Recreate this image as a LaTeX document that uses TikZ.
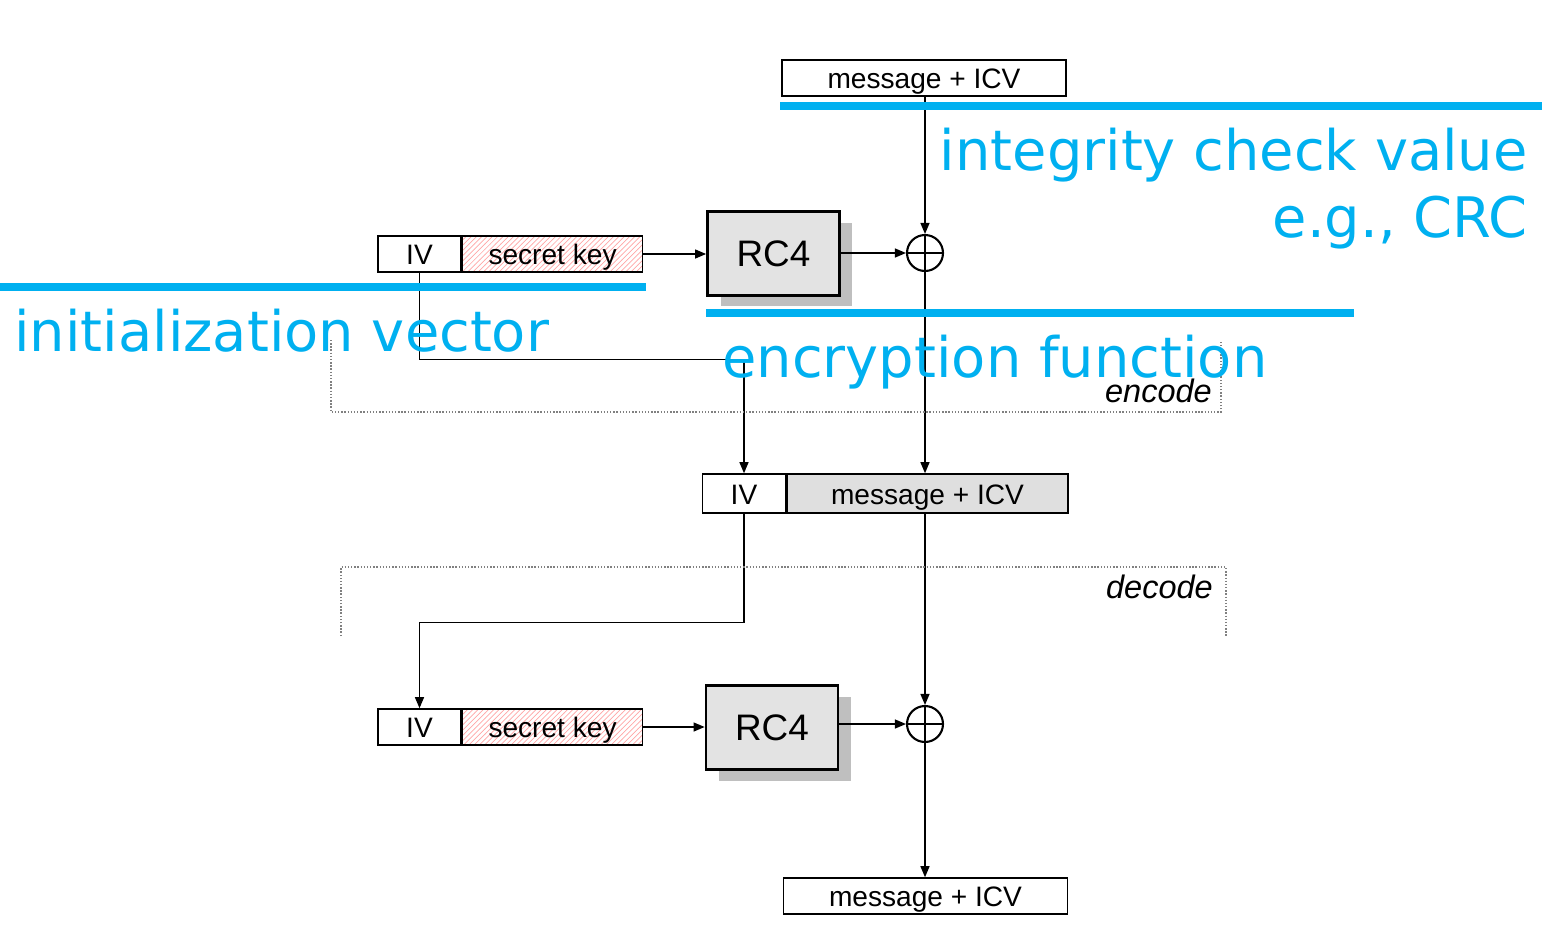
\documentclass[tikz,border=0pt]{standalone}
\usepackage{fontspec}
\setmainfont{DejaVu Sans}
\newfontfamily\boxfont{Liberation Sans}
\usepackage{xcolor}
\usetikzlibrary{arrows.meta, positioning, patterns, shadows}
\definecolor{notecyan}{HTML}{00B0F0}

\begin{document}
\begin{tikzpicture}[
        x=0.02cm, y=-0.02cm,
        box/.style={rectangle, draw, line width=0.9pt, minimum height=0.72cm, inner sep=0pt, text height=0.42cm, text depth=0pt, font=\boxfont\fontsize{16}{18}\selectfont},
        ivbox/.style={box, fill=white, minimum width=1.66cm},
        keybox/.style={box, pattern=north east lines, pattern color=red!35, minimum width=3.6cm},
        msgbox/.style={box, fill=white, minimum width=5.68cm},
        cipher/.style={box, fill=gray!25, minimum width=5.62cm, minimum height=0.78cm},
        rcbox/.style={rectangle, draw, line width=1.6pt, fill=gray!22, minimum width=2.64cm, minimum height=1.68cm, font=\boxfont\fontsize{21}{24}\selectfont, drop shadow={shadow xshift=0.26cm, shadow yshift=-0.22cm, fill=gray!50, opacity=1}},
        xor/.style={circle, draw, line width=1.2pt, minimum size=0.72cm, inner sep=0pt},
        arrow/.style={line width=0.7pt, -{Triangle[length=0.22cm, width=0.18cm]}},
        wire/.style={line width=0.7pt},
        frame/.style={gray, densely dotted, line width=0.8pt},
        tag/.style={font=\boxfont\itshape\fontsize{18.5}{21}\selectfont},
        note/.style={text=notecyan, inner sep=0pt, font=\fontsize{31.8}{37}\selectfont},
        bar/.style={notecyan, line width=0.16cm}
    ]
        \useasboundingbox (0,0) rectangle (1542,924);

        % encode side
        \node [msgbox] (msgtop) at (924,78) {message + ICV};
        \node [ivbox] (key1iv) at (419.5,254) {IV};
        \node [keybox, right=0pt of key1iv] (key1sk) {secret key};
        \node [rcbox] (rc41) at (773.5,253.5) {RC4};
        \node [xor] (xor1) at (925,253) {};
        \draw [wire] (xor1.north) -- (xor1.south) (xor1.west) -- (xor1.east);

        % transmitted frame
        \node [ivbox, minimum height=0.78cm] (ivmid) at (744,493.5) {IV};
        \node [cipher, right=0pt of ivmid] (msgmid) {message + ICV};

        % decode side
        \node [ivbox] (key2iv) at (419.5,727) {IV};
        \node [keybox, right=0pt of key2iv] (key2sk) {secret key};
        \node [rcbox] (rc42) at (772,727.5) {RC4};
        \node [xor] (xor2) at (925,724) {};
        \draw [wire] (xor2.north) -- (xor2.south) (xor2.west) -- (xor2.east);
        \node [msgbox] (msgbot) at (925.5,896) {message + ICV};

        % connectors
        \draw [arrow] (msgtop.south -| xor1) -- (xor1.north);
        \draw [arrow] (key1sk) -- (key1sk -| rc41.west);
        \draw [arrow] (rc41.east |- xor1) -- (xor1);
        \draw [arrow] (xor1.south) -- (xor1.south |- msgmid.north);
        \draw [arrow] (key1iv.south) -- ++(0,87) -| (ivmid.north);
        \draw [arrow] (ivmid.south) -- ++(0,109) -| (key2iv.north);
        \draw [arrow] (msgmid.south -| xor2) -- (xor2.north);
        \draw [arrow] (key2sk) -- (key2sk -| rc42.west);
        \draw [arrow] (rc42.east |- xor2) -- (xor2);
        \draw [arrow] (xor2.south) -- (xor2.south |- msgbot.north);

        % encode / decode frames
        \draw [frame] (331,340) -- (331,412) -- (1221,412) -- (1221,340);
        \node [tag, anchor=base east] (enc) at (1218,402) {encode};
        \draw [frame] (341,636) -- (341,567) -- (1226,567) -- (1226,636);
        \node [tag, anchor=base east] (dec) at (1219,598) {decode};

        % notes
        \draw [bar] (780,106) -- (1542,106);
        \node [note, anchor=base east] (icv) at (1528,170) {integrity check value};
        \node [note, anchor=base east] (crc) at (1528,237) {e.g., CRC};
        \draw [bar] (0,287) -- (646,287);
        \node [note, anchor=base west] (ivnote) at (14,351) {initialization vector};
        \draw [bar] (706,313) -- (1354,313);
        \node [note, anchor=base west] (encnote) at (722,377) {encryption function};
    \end{tikzpicture}
\end{document}
